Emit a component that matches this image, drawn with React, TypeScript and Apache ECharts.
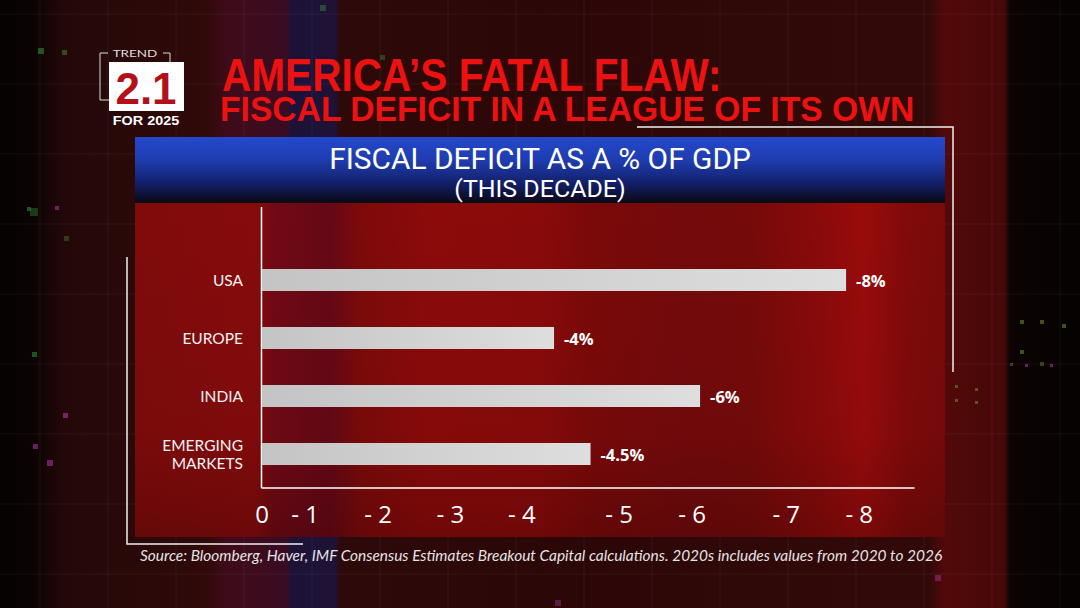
import { useEffect, useRef } from "react";
import * as echarts from "echarts";

const categories = ["USA", "EUROPE", "INDIA", "EMERGING\nMARKETS"];
const deficitPct = [-8, -4, -6, -4.5];
const tickLabels = ["0", "- 1", "- 2", "- 3", "- 4", "- 5", "- 6", "- 7", "- 8"];
const tickLabelValues = [0, -0.59, -1.59, -2.58, -3.56, -4.89, -5.89, -7.18, -8.18];
const mainTitle = ["AMERICA\u2019S FATAL FLAW:", "FISCAL DEFICIT IN A LEAGUE OF ITS OWN"];
const chartTitle = "FISCAL DEFICIT AS A % OF GDP";
const chartSubtitle = "(THIS DECADE)";
const sourceNote =
  "Source: Bloomberg, Haver, IMF Consensus Estimates Breakout Capital calculations. 2020s includes values from 2020 to 2026";
const badgeTop = "TREND";
const badgeNumber = "2.1";
const badgeBottom = "FOR 2025";

function lg(x2: number, y2: number, stops: [number, string][]) {
  return new echarts.graphic.LinearGradient(
    0,
    0,
    x2,
    y2,
    stops.map(([offset, color]) => ({ offset, color }))
  );
}

function buildBackground(): any[] {
  const els: any[] = [];
  els.push({
    type: "rect",
    shape: { x: 0, y: 0, width: 1080, height: 608 },
    style: {
      fill: lg(1, 0, [
        [0, "#050202"],
        [0.03, "#0b0303"],
        [0.06, "#240808"],
        [0.19, "#300909"],
        [0.21, "#3e0b1a"],
        [0.265, "#3a0c22"],
        [0.27, "#1c1238"],
        [0.31, "#1e1236"],
        [0.315, "#2e0909"],
        [0.5, "#2c0707"],
        [0.86, "#320909"],
        [0.875, "#520909"],
        [0.93, "#460808"],
        [0.935, "#0c0303"],
        [1, "#060202"],
      ]),
    },
    silent: true,
  });
  for (let x = 40; x < 1080; x += 68) {
    els.push({
      type: "line",
      shape: { x1: x, y1: 0, x2: x, y2: 608 },
      style: { stroke: "rgba(255,255,255,0.06)", lineWidth: 1 },
      silent: true,
    });
  }
  for (let y = 14; y < 608; y += 70) {
    els.push({
      type: "line",
      shape: { x1: 0, y1: y, x2: 1080, y2: y },
      style: { stroke: "rgba(255,255,255,0.06)", lineWidth: 1 },
      silent: true,
    });
  }
  const dots: [number, number, number, string][] = [
    [38, 48, 6, "rgba(60,160,60,0.5)"],
    [62, 50, 5, "rgba(60,160,60,0.45)"],
    [55, 206, 4, "rgba(190,60,190,0.5)"],
    [27, 207, 4, "rgba(60,160,60,0.5)"],
    [30, 208, 8, "rgba(60,160,60,0.35)"],
    [64, 236, 5, "rgba(60,160,60,0.35)"],
    [32, 352, 5, "rgba(60,160,60,0.5)"],
    [63, 413, 5, "rgba(190,60,190,0.55)"],
    [33, 444, 5, "rgba(190,60,190,0.5)"],
    [47, 460, 6, "rgba(190,60,190,0.5)"],
    [1020, 320, 4, "rgba(120,160,60,0.5)"],
    [1040, 320, 4, "rgba(120,160,60,0.5)"],
    [1062, 324, 4, "rgba(120,160,60,0.5)"],
    [1020, 350, 4, "rgba(120,160,60,0.5)"],
    [1040, 362, 4, "rgba(120,160,60,0.4)"],
    [1010, 363, 3, "rgba(120,160,60,0.4)"],
    [1025, 364, 3, "rgba(190,60,190,0.5)"],
    [1050, 364, 3, "rgba(190,60,190,0.5)"],
    [955, 385, 3, "rgba(120,160,60,0.5)"],
    [975, 388, 3, "rgba(120,160,60,0.5)"],
    [955, 399, 3, "rgba(120,160,60,0.5)"],
    [975, 401, 3, "rgba(120,160,60,0.5)"],
    [320, 5, 6, "rgba(60,160,60,0.4)"],
    [380, 55, 5, "rgba(60,160,60,0.35)"],
    [555, 600, 6, "rgba(190,60,190,0.35)"],
    [935, 575, 6, "rgba(190,60,190,0.4)"],
  ];
  dots.forEach(([x, y, s, c]) => {
    els.push({
      type: "rect",
      shape: { x, y, width: s, height: s },
      style: { fill: c },
      silent: true,
    });
  });
  return els;
}

function buildPanel(): any[] {
  return [
    {
      type: "rect",
      shape: { x: 135, y: 137, width: 810, height: 400 },
      style: {
        fill: lg(1, 0, [
          [0, "#800b0b"],
          [0.15, "#860b0c"],
          [0.17, "#720914"],
          [0.24, "#660816"],
          [0.28, "#7e0a0a"],
          [0.36, "#8c0a0a"],
          [0.5, "#8a0a0a"],
          [0.56, "#7c0909"],
          [0.68, "#740a0c"],
          [0.76, "#760a0a"],
          [0.85, "#8c0a0a"],
          [0.9, "#9a0b0b"],
          [0.95, "#820a0a"],
          [1, "#7a0a0a"],
        ]),
      },
      silent: true,
    },
    {
      type: "rect",
      shape: { x: 135, y: 203, width: 810, height: 334 },
      style: {
        fill: lg(0, 1, [
          [0, "rgba(0,0,0,0)"],
          [0.7, "rgba(0,0,0,0.05)"],
          [1, "rgba(0,0,0,0.2)"],
        ]),
      },
      silent: true,
    },
    {
      type: "rect",
      shape: { x: 135, y: 137, width: 810, height: 66 },
      style: {
        fill: lg(0, 1, [
          [0, "#2448cc"],
          [0.35, "#1f3db0"],
          [0.7, "#13206a"],
          [1, "#0a0812"],
        ]),
      },
      silent: true,
    },
  ];
}

function buildTexts(): any[] {
  const white = "#ffffff";
  const titleRed = "#ec1212";
  return [
    {
      type: "text",
      x: 540,
      y: 159,
      scaleX: 1.03,
      style: {
        text: chartTitle,
        fill: white,
        font: "400 29px Roboto",
        align: "center",
        verticalAlign: "middle",
      },
      silent: true,
    },
    {
      type: "text",
      x: 540,
      y: 189,
      scaleX: 1.04,
      style: {
        text: chartSubtitle,
        fill: white,
        font: "400 24px Roboto",
        align: "center",
        verticalAlign: "middle",
      },
      silent: true,
    },
    {
      type: "text",
      x: 222,
      y: 75,
      scaleX: 0.882,
      style: {
        text: mainTitle[0],
        fill: titleRed,
        font: "bold 46px 'Liberation Sans'",
        align: "left",
        verticalAlign: "middle",
      },
      silent: true,
    },
    {
      type: "text",
      x: 220,
      y: 109,
      scaleX: 0.962,
      style: {
        text: mainTitle[1],
        fill: titleRed,
        font: "bold 35px 'Liberation Sans'",
        align: "left",
        verticalAlign: "middle",
      },
      silent: true,
    },
    {
      type: "text",
      x: 140,
      y: 555,
      scaleX: 1.03,
      style: {
        text: sourceNote,
        fill: "#e4e4e4",
        font: "italic 400 15px Lato",
        align: "left",
        verticalAlign: "middle",
      },
      silent: true,
    },
    // badge
    {
      type: "polyline",
      shape: { points: [[108, 53], [100, 53], [100, 100], [109, 100]] },
      style: { stroke: "#dddddd", lineWidth: 1, fill: "none" },
      silent: true,
    },
    {
      type: "polyline",
      shape: { points: [[163, 53], [170, 53], [170, 62]] },
      style: { stroke: "#dddddd", lineWidth: 1, fill: "none" },
      silent: true,
    },
    {
      type: "text",
      x: 135,
      y: 53,
      scaleX: 1.35,
      style: {
        text: badgeTop,
        fill: "#dddddd",
        font: "400 10px Lato",
        align: "center",
        verticalAlign: "middle",
      },
      silent: true,
    },
    {
      type: "rect",
      shape: { x: 109, y: 62, width: 75, height: 49 },
      style: { fill: "#ffffff" },
      silent: true,
    },
    {
      type: "text",
      x: 146,
      y: 88,
      style: {
        text: badgeNumber,
        fill: "#b3101a",
        font: "bold 44px 'Liberation Sans'",
        align: "center",
        verticalAlign: "middle",
      },
      silent: true,
    },
    {
      type: "text",
      x: 146,
      y: 121,
      scaleX: 1.2,
      style: {
        text: badgeBottom,
        fill: "#ffffff",
        font: "bold 12px 'Liberation Sans'",
        align: "center",
        verticalAlign: "middle",
      },
      silent: true,
    },
    // frames
    {
      type: "line",
      shape: { x1: 261.5, y1: 207, x2: 261.5, y2: 488 },
      style: { stroke: "#ffffff", lineWidth: 1.5 },
      silent: true,
    },
    {
      type: "polyline",
      shape: { points: [[127, 257], [127, 544], [303, 544]] },
      style: { stroke: "#f0f0f0", lineWidth: 1.5, fill: "none" },
      silent: true,
    },
    {
      type: "polyline",
      shape: { points: [[637, 127], [953, 127], [953, 372]] },
      style: { stroke: "#f0f0f0", lineWidth: 1.5, fill: "none" },
      silent: true,
    },
  ];
}

export default function App() {
  const ref = useRef<HTMLDivElement>(null);
  useEffect(() => {
    if (!ref.current) return;
    const chart = echarts.init(ref.current, undefined, { renderer: "svg" });
    chart.setOption({
      animation: false,
      backgroundColor: "#120404",
      grid: { left: 262, right: 166, top: 251, bottom: 125, containLabel: false },
      xAxis: {
        type: "value",
        inverse: true,
        min: -8.93,
        max: 0,
        offset: 5,
        splitLine: { show: false },
        axisTick: { show: false },
        axisLine: { show: true, onZero: false, lineStyle: { color: "#ffffff", width: 1.5 } },
        axisLabel: {
          customValues: tickLabelValues,
          formatter: (v: number) => {
            const i = tickLabelValues.findIndex((t) => Math.abs(t - v) < 1e-6);
            return i >= 0 ? tickLabels[i] : "";
          },
          color: "#ffffff",
          fontSize: 24,
          fontFamily: "'Open Sans'",
          margin: 13,
          showMinLabel: true,
          showMaxLabel: true,
        },
      },
      yAxis: {
        type: "category",
        inverse: true,
        data: categories,
        axisLine: { show: false },
        axisTick: { show: false },
        splitLine: { show: false },
        axisLabel: {
          color: "#f2f2f2",
          fontSize: 15.5,
          fontFamily: "Lato",
          margin: 19,
          lineHeight: 17.5,
          align: "right",
        },
      },
      graphic: { elements: [...buildBackground(), ...buildPanel(), ...buildTexts()] },
      series: [
        {
          type: "bar",
          data: deficitPct,
          barWidth: 22,
          z: 10,
          itemStyle: {
            color: lg(1, 0, [
              [0, "#c4c4c4"],
              [1, "#dedede"],
            ]),
          },
          label: {
            show: true,
            position: "right",
            distance: 10,
            formatter: (p: any) => `${p.value}%`,
            color: "#ffffff",
            fontWeight: "bold",
            fontSize: 16.5,
            fontFamily: "'Open Sans'",
          },
        },
      ],
    });
    return () => chart.dispose();
  }, []);
  return (
    <div
      ref={ref}
      style={{ position: "absolute", left: 0, top: 0, width: 1080, height: 608 }}
    />
  );
}
